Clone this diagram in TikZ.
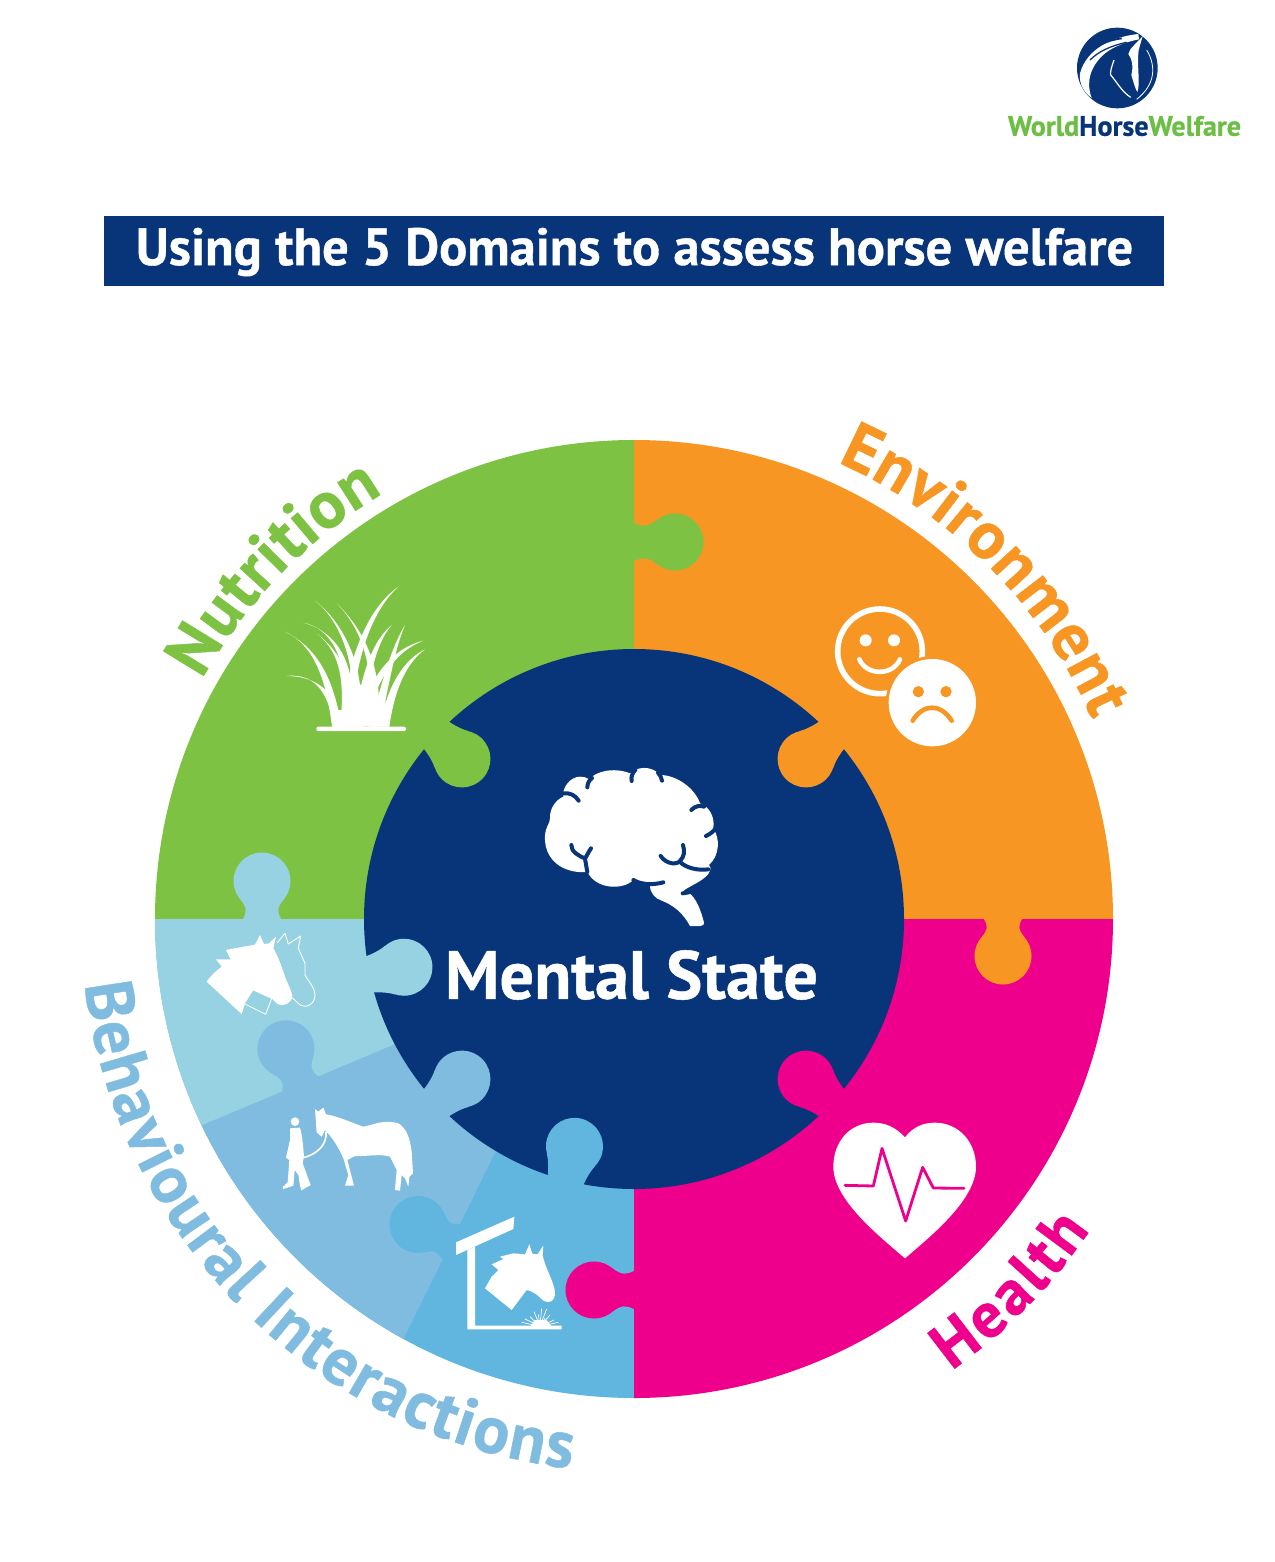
\documentclass[tikz,border=0pt]{standalone}
\usepackage{fontspec}
\usepackage{graphicx}
\setmainfont{PT Sans}[BoldFeatures={FakeBold=0.7}]
\usetikzlibrary{decorations.text,calc}
\definecolor{cgreen}{HTML}{7DC242}
\definecolor{corange}{HTML}{F89623}
\definecolor{cpink}{HTML}{EE008C}
\definecolor{cnavy}{HTML}{08357A}
\definecolor{clight}{HTML}{97D2E3}
\definecolor{cmid}{HTML}{80BCDF}
\definecolor{cdark}{HTML}{60B6DE}
\definecolor{clogo}{HTML}{6DBE45}
% flat tab: base x, base y, rotation, colour, bulb distance
\newcommand\tabf[5]{%
  \fill[#4,shift={(#1,#2)},rotate=#3] (-3,-19) -- (0,-19) .. controls (8,-15) and ({#5-27},-15) .. ({#5-18.3},-21.8) -- ({#5-18.3},21.8) .. controls ({#5-27},15) and (8,15) .. (0,19) -- (-3,19) -- cycle;
  \fill[#4,shift={(#1,#2)},rotate=#3] (#5,0) circle (28.5);}
% radial tab into the centre disc
\newcommand\tabr[4]{%
  \fill[#4,shift={(#1,#2)},rotate=#3] (-6,-18.5) -- (0,-18.5) .. controls (4,-19) and (14,-21) .. (21,-25) -- (21,25) .. controls (14,21) and (4,19) .. (0,18.5) -- (-6,18.5) -- cycle;
  \fill[#4,shift={(#1,#2)},rotate=#3] (35,0) circle (28.5);}
\newcommand\blade[4]{%
  \fill[white] (#1) .. controls (#2) and (#3) .. (#4,470) -- ($(#4,470)+(28,0)$) .. controls ($(#3)+(24,6)$) and ($(#2)+(10,8)$) .. (#1) -- cycle;}
\newcommand\arcf{\fontsize{67}{67}\selectfont\bfseries}
\newcommand\arcg{\fontsize{64}{64}\selectfont\bfseries}
\tikzset{
  zoomed/.style n args={2}{shift={(#1,#2)},x=0.33333pt,y=-0.33333pt},
  navystroke/.style={cnavy,line width=4pt,line cap=round,line join=round},
  arctext/.style={decorate,decoration={text along path,text={#1},text align=fit to path}}
}
\begin{document}
\begin{tikzpicture}[x=1pt,y=-1pt]
\useasboundingbox (0,0) rectangle (1274,1562);
\fill[white] (0,0) rectangle (1274,1562);
% logo
\begin{scope}[zoomed={990}{10}]
  \fill[cnavy] (382,174) circle (121);
  \fill[white] (445,72) .. controls (370,80) and (290,115) .. (270,190) .. controls (266,225) and (285,250) .. (305,264) .. controls (288,220) and (298,170) .. (345,130) .. controls (370,110) and (410,95) .. (447,88) -- cycle;
  \draw[cnavy,line width=1.8pt] (288,135) .. controls (320,105) and (350,92) .. (395,85);
  \draw[cnavy,line width=1.3pt] (300,150) .. controls (325,125) and (360,108) .. (410,97);
  \fill[white] (458,78) .. controls (440,100) and (418,115) .. (415,132) .. controls (428,150) and (430,170) .. (424,195) .. controls (430,215) and (435,235) .. (442,246) .. controls (452,220) and (440,170) .. (446,120) -- cycle;
  \draw[white,line width=1.2pt] (372,150) .. controls (365,170) and (360,185) .. (362,195) .. controls (380,215) and (395,245) .. (422,262);
  \draw[white,line width=.8pt] (470,120) .. controls (500,170) and (495,225) .. (440,268);
\end{scope}
\node[font=\bfseries,inner sep=0pt] (logotext) at (1124.5,126) {\resizebox{233pt}{!}{\textcolor{clogo}{World}\textcolor{cnavy}{Horse}\textcolor{clogo}{Welfare}}};
% title
\node[fill=cnavy,minimum width=1060pt,minimum height=70pt,inner sep=0pt,anchor=north west] (titlebar) at (104,216) {};
\node[inner sep=0pt,text=white,font=\bfseries] (title) at (634.5,252) {\resizebox{997pt}{!}{Using the 5 Domains to assess horse welfare}};
% wheel
\begin{scope}
  \clip (634,919) circle (479);
  \fill[cgreen] (0,300) rectangle (634,919);
  \fill[corange] (634,300) rectangle (1274,919);
  \fill[cpink] (634,919) rectangle (1274,1500);
  \fill[cdark] (0,919) rectangle (634,1500);
  \fill[cmid] (500,1000) -- (520,1102) -- (370,1407) -- (100,1407) -- (100,1168) -- cycle;
  \fill[clight] (100,919) -- (500,919) -- (500,1000) -- (100,1168) -- cycle;
\end{scope}
\fill[cnavy] (634,919) circle (270);
% interlocking tabs
\tabf{634}{542}{0}{cgreen}{41}
\tabf{1003}{919}{-90}{corange}{37}
\tabf{262}{919}{90}{clight}{38}
\tabf{634}{1290}{180}{cpink}{40}
\tabf{300}{1083}{112.4}{cmid}{37}
\tabf{450}{1241}{152.7}{cdark}{36}
\tabr{436.3}{735.1}{-42.9}{cgreen}
\tabr{831.7}{735.1}{222.9}{corange}
\tabr{831.7}{1102.9}{137.1}{cpink}
\tabr{436.3}{1102.9}{42.9}{cmid}
\tabr{369.7}{974.4}{11.8}{clight}
\tabr{565.6}{1180.2}{75.3}{cdark}
% centre label
\node[inner sep=0pt,text=white,font=\bfseries] (mental) at (631.5,975) {\resizebox{373pt}{!}{Mental State}};
% brain
\begin{scope}[zoomed={530}{750}]
  \fill[white] (45,255) .. controls (45,235) and (60,220) .. (60,205) .. controls (58,180) and (75,150) .. (100,140) .. controls (95,115) and (120,80) .. (150,80) .. controls (160,80) and (170,82) .. (178,88) .. controls (195,65) and (250,50) .. (300,70) .. controls (320,50) and (365,45) .. (390,75) .. controls (440,75) and (495,115) .. (510,160) .. controls (535,170) and (555,195) .. (550,235) .. controls (570,265) and (570,315) .. (537,345) .. controls (545,355) and (540,365) .. (535,372) .. controls (515,395) and (485,405) .. (460,422) .. controls (490,425) and (510,470) .. (522,518) .. controls (524,528) and (510,530) .. (480,528) .. controls (460,490) and (430,465) .. (395,452) .. controls (375,445) and (360,430) .. (360,405) .. controls (340,400) and (320,395) .. (310,390) .. controls (280,420) and (200,420) .. (172,366) .. controls (100,372) and (40,330) .. (45,255) -- cycle;
  \draw[navystroke] (100,130) .. controls (120,128) and (135,135) .. (146,152);
  \draw[navystroke] (172,112) .. controls (172,100) and (178,90) .. (186,84);
  \draw[navystroke] (305,93) .. controls (302,80) and (308,68) .. (316,60);
  \draw[navystroke] (396,92) .. controls (394,82) and (390,74) .. (384,68);
  \draw[navystroke] (484,180) .. controls (495,168) and (510,165) .. (522,170);
  \draw[navystroke] (528,258) .. controls (540,252) and (550,245) .. (556,236);
  \draw[navystroke] (124,285) .. controls (122,305) and (150,320) .. (165,325) .. controls (168,345) and (170,355) .. (172,366);
  \draw[navystroke] (183,295) .. controls (176,305) and (172,315) .. (165,325);
  \draw[navystroke] (392,318) .. controls (410,345) and (445,345) .. (452,330) .. controls (462,320) and (465,305) .. (459,285);
  \draw[navystroke] (450,336) .. controls (470,355) and (505,362) .. (535,358);
  \draw[navystroke] (310,390) .. controls (335,405) and (370,405) .. (400,397);
  \draw[navystroke] (458,430) .. controls (480,428) and (500,420) .. (515,408);
\end{scope}
% grass
\begin{scope}[zoomed={270}{570}]
  \blade{45,185}{120,220}{165,300}{186}
  \blade{50,318}{120,310}{175,350}{190}
  \blade{100,158}{180,175}{245,260}{215}
  \blade{135,92}{210,150}{270,290}{240}
  \blade{140,190}{195,235}{230,300}{210}
  \blade{200,100}{270,170}{320,290}{295}
  \blade{385,50}{300,110}{230,250}{215}
  \blade{365,165}{310,210}{275,300}{250}
  \blade{405,165}{360,240}{335,340}{300}
  \blade{460,212}{370,235}{300,310}{255}
  \blade{465,238}{400,270}{350,350}{330}
  \fill[white] (186,470) -- (200,420) -- (215,420) -- (240,335) -- (270,345) -- (300,330) -- (320,375) -- (345,385) -- (358,470) -- cycle;
  \fill[white,rounded corners=2pt] (139,470) rectangle (408,483);
\end{scope}
% faces
\begin{scope}[zoomed={820}{600}]
  \draw[white,line width=5.6pt] (180,154) circle (127);
  \fill[white] (137,121) circle (18) (222,121) circle (18);
  \draw[white,line width=4.6pt,line cap=round] (118,178) .. controls (140,228) and (218,228) .. (240,178);
  \fill[corange] (337,308) circle (140);
  \fill[white] (337,308) circle (131);
  \fill[corange] (295,275) circle (17) (378,275) circle (17);
  \draw[corange,line width=4.6pt,line cap=round] (278,362) .. controls (310,310) and (362,310) .. (395,362);
\end{scope}
% heart
\begin{scope}[zoomed={820}{1110}]
  \fill[white] (255,82) .. controls (225,50) and (195,38) .. (160,38) .. controls (90,38) and (40,95) .. (40,170) .. controls (40,270) and (180,380) .. (255,445) .. controls (330,380) and (468,270) .. (468,170) .. controls (468,95) and (415,38) .. (345,38) .. controls (310,38) and (280,50) .. (255,82) -- cycle;
  \draw[cpink,line width=2.8pt,line join=round,line cap=round] (75,226) -- (160,228) -- (186,115) -- (257,333) -- (308,172) -- (340,234) -- (432,235);
\end{scope}
% horse heads
\begin{scope}[zoomed={190}{920}]
  \fill[white] (50,185) .. controls (60,170) and (75,155) .. (95,140) -- (78,118) -- (122,118) -- (108,90) -- (160,80) -- (195,74) -- (210,45) -- (222,72) -- (237,70) -- (258,50) -- (250,85) .. controls (265,110) and (275,140) .. (285,170) .. controls (295,195) and (305,215) .. (307,228) .. controls (305,250) and (280,262) .. (262,252) -- (245,235) -- (190,210) -- (165,250) -- (155,282) -- cycle;
  \draw[white,line width=.8pt,line join=round] (190,210) -- (245,235) -- (227,283) -- (165,252);
  \draw[white,line width=.9pt,line join=round] (262,68) -- (285,40) -- (295,72) -- (332,48) -- (325,85) -- (345,130) -- (345,165) .. controls (360,190) and (375,205) .. (375,225) .. controls (375,255) and (345,265) .. (330,255) .. controls (320,245) and (312,238) .. (305,232);
\end{scope}
% person and horse
\begin{scope}[zoomed={270}{1095}]
  \fill[white] (75,80) circle (13);
  \fill[white] (60,100) -- (90,98) .. controls (97,120) and (100,160) .. (102,185) -- (98,205) -- (122,270) -- (94,286) -- (90,272) -- (85,240) -- (74,225) -- (70,272) -- (40,282) -- (38,276) -- (53,262) -- (58,195) -- (48,188) -- (60,135) -- cycle;
  \draw[white,line width=1.6pt] (100,188) .. controls (140,178) and (172,150) .. (168,110);
  \fill[white] (135,42) -- (145,50) -- (160,38) -- (168,58) .. controls (200,62) and (250,85) .. (280,95) .. controls (310,90) and (340,72) .. (385,85) .. controls (410,100) and (420,130) .. (425,170) -- (429,235) -- (418,245) -- (415,275) -- (405,250) -- (395,240) -- (390,287) -- (375,285) -- (380,225) -- (360,185) .. controls (330,175) and (290,185) .. (255,183) -- (232,195) -- (245,245) -- (252,272) -- (225,272) -- (235,240) -- (220,190) .. controls (205,155) and (185,125) .. (165,105) -- (155,125) -- (140,112) -- cycle;
\end{scope}
% stall
\begin{scope}[zoomed={450}{1205}]
  \fill[white] (18,112) -- (193,35) -- (190,72) -- (18,150) -- cycle;
  \fill[white] (52,135) -- (75,125) -- (75,362) -- (335,362) -- (335,373) -- (52,373) -- cycle;
  \fill[white] (125,178) -- (160,162) -- (150,155) -- (190,145) -- (225,148) -- (238,118) -- (247,146) -- (262,148) -- (280,122) -- (278,152) .. controls (285,180) and (295,200) .. (303,220) .. controls (312,245) and (320,265) .. (312,280) .. controls (305,295) and (285,295) .. (272,280) .. controls (262,268) and (245,258) .. (230,255) -- (185,315) -- (105,250) -- (125,215) -- (145,195) -- cycle;
  \foreach \tx/\ty in {215/352,225/342,240/335,252/320,265/328,275/310,290/312,300/330,312/345,325/352,245/350,285/340}
    \draw[white,line width=.7pt] (270,364) -- (\tx,\ty);
  \fill[white] (240,364) -- (255,345) -- (290,345) -- (305,364) -- cycle;
\end{scope}
% curved labels
\path[arctext={|\arcf\color{cgreen}|Nutrition}] plot[domain=-61:-30.5,samples=60] ({634+494*sin(\x)},{919-494*cos(\x)});
\path[arctext={|\arcf\color{corange}|Environment}] plot[domain=24:66.5,samples=80] ({634+500*sin(\x)},{919-500*cos(\x)});
\path[arctext={|\arcg\color{cpink}|Health}] plot[domain=54.9:34.3,samples=50] ({634+552*cos(\x)},{919+552*sin(\x)});
\path[arctext={|\arcf\color{cmid}|Behavioural Interactions}] plot[domain=173.2:96.5,samples=130] ({634+553*cos(\x)},{919+553*sin(\x)});
\end{tikzpicture}
\end{document}
